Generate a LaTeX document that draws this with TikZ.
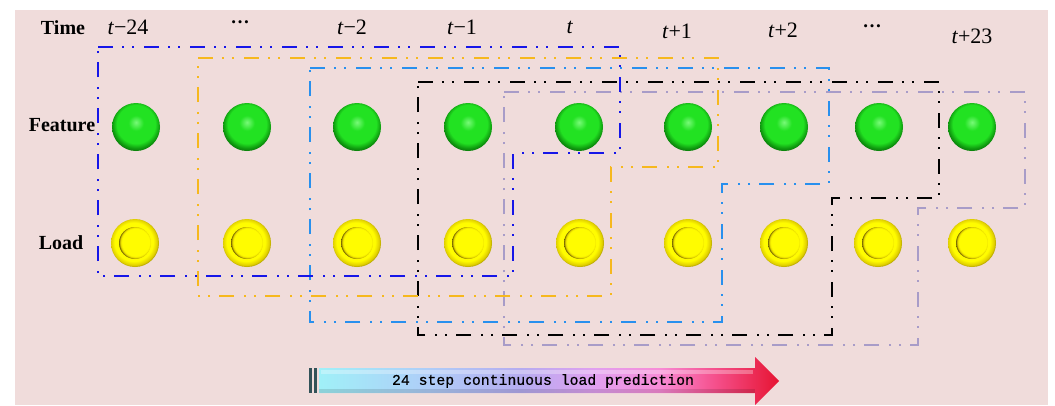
\documentclass[tikz,border=0pt]{standalone}
\usepackage{fontspec}
\setmainfont{Liberation Serif}
\newfontfamily\predfont[FakeBold=0.6]{Liberation Mono}
\usetikzlibrary{
    positioning,
    calc
}

\definecolor{slidebg}{RGB}{240,220,219}
\definecolor{winblue}{RGB}{22,22,232}
\definecolor{winorange}{RGB}{246,184,30}
\definecolor{winsky}{RGB}{40,144,238}
\definecolor{winlilac}{RGB}{168,156,200}
\definecolor{barcol}{RGB}{50,82,88}

% green feature balls
\definecolor{gbhi}{RGB}{120,250,120}
\definecolor{gbmid}{RGB}{34,226,34}
\definecolor{gbrim}{RGB}{14,150,14}
\definecolor{gbdark}{RGB}{6,92,6}
\pgfdeclareradialshading{greenball}{\pgfpoint{0bp}{5bp}}{%
  color(0bp)=(gbhi); color(8bp)=(gbmid); color(20bp)=(gbmid);
  color(25bp)=(gbrim); color(30bp)=(gbdark); color(50bp)=(gbdark)}

% yellow load buttons
\definecolor{ybright}{RGB}{255,252,0}
\definecolor{ymid}{RGB}{225,208,0}
\definecolor{ydark}{RGB}{120,104,0}
\definecolor{ydeep}{RGB}{60,52,0}
\pgfdeclareradialshading{yellowouter}{\pgfpoint{-2bp}{2bp}}{%
  color(0bp)=(ybright); color(20bp)=(ybright); color(24bp)=(ymid);
  color(28bp)=(ydark); color(50bp)=(ydark)}
\pgfdeclareradialshading{yellowinner}{\pgfpoint{2bp}{2bp}}{%
  color(0bp)=(ybright); color(22bp)=(ybright); color(24bp)=(ymid);
  color(26bp)=(ydark); color(28bp)=(ydeep); color(50bp)=(ydeep)}

% prediction arrow
\definecolor{pra}{RGB}{160,240,248}
\definecolor{prb}{RGB}{175,205,248}
\definecolor{prc}{RGB}{182,172,240}
\definecolor{prd}{RGB}{225,160,240}
\definecolor{pre}{RGB}{248,140,215}
\definecolor{prf}{RGB}{245,80,140}
\definecolor{prg}{RGB}{230,20,50}
\pgfdeclarehorizontalshading{predshade}{100bp}{%
  color(0bp)=(pra); color(25bp)=(pra); color(37bp)=(prb); color(47bp)=(prc);
  color(55bp)=(prd); color(62bp)=(pre); color(68bp)=(prf); color(75bp)=(prg);
  color(100bp)=(prg)}

\begin{document}
\begin{tikzpicture}[
    x=1pt, y=-1pt,
    every node/.style={inner sep=0pt},
    rowlabel/.style={font=\fontsize{20}{20}\selectfont\bfseries},
    steplabel/.style={font=\fontsize{22}{22}\selectfont},
    featureball/.style={
      circle,
      minimum size=48pt,
      shade,
      shading=greenball
    },
    loadbutton/.style={
      circle,
      minimum size=48pt,
      shade,
      shading=yellowouter
    },
    window/.style={
      line width=1.8pt,
      dash pattern=on 15pt off 9pt on 2pt off 8pt on 2pt off 10pt
    }
  ]

  % background {{{
  \fill[white] (0,0) rectangle (1055,405);
  \fill[slidebg] (15,10) rectangle (1048,405);
  \useasboundingbox (0,0) rectangle (1055,405);
  % }}}

  % sliding windows {{{
  \draw[window, winlilac]
    (504,92) -- (1025,92) -- (1025,208) -- (918,208) -- (918,345) -- (504,345) -- cycle;
  \draw[window, black]
    (418,82) -- (939,82) -- (939,198) -- (832,198) -- (832,335) -- (418,335) -- cycle;
  \draw[window, winsky]
    (310,68) -- (829,68) -- (829,184) -- (722,184) -- (722,322) -- (310,322) -- cycle;
  \draw[window, winorange]
    (198,58) -- (718,58) -- (718,167) -- (611,167) -- (611,296) -- (198,296) -- cycle;
  \draw[window, winblue]
    (98,47) -- (620,47) -- (620,153) -- (513,153) -- (513,276) -- (98,276) -- cycle;
  % }}}

  % row labels {{{
  \node[rowlabel] (time) at (63,28) {Time};
  \node[rowlabel] (feature) at (62,125) {Feature};
  \node[rowlabel] (load) at (61,243) {Load};
  % }}}

  % time steps {{{
  \node[steplabel] (tm24) at (128,27) {\textit{t}−24};
  \node[steplabel] (tdots) at (240,22) {\fontsize{19}{19}\selectfont\bfseries …};
  \node[steplabel] (tm2) at (352,27) {\textit{t}−2};
  \node[steplabel] (tm1) at (462,27) {\textit{t}−1};
  \node[steplabel] (tnow) at (570,27) {\textit{t}};
  \node[steplabel] (tp1) at (677,31) {\textit{t}+1};
  \node[steplabel] (tp2) at (783,30) {\textit{t}+2};
  \node[steplabel] (pdots) at (872,26) {\fontsize{19}{19}\selectfont\bfseries …};
  \node[steplabel] (tp23) at (972,36) {\textit{t}+23};
  % }}}

  % features {{{
  \node[featureball] (f1) at (136,127) {};
  \node[featureball] (f2) at (247,127) {};
  \node[featureball] (f3) at (357,127) {};
  \node[featureball] (f4) at (468,127) {};
  \node[featureball] (f5) at (579,127) {};
  \node[featureball] (f6) at (688,127) {};
  \node[featureball] (f7) at (784,127) {};
  \node[featureball] (f8) at (879,127) {};
  \node[featureball] (f9) at (972,127) {};
  % }}}

  % loads {{{
  \node[loadbutton] (l1) at (135,243) {};
  \node[loadbutton] (l2) at (247,243) {};
  \node[loadbutton] (l3) at (357,243) {};
  \node[loadbutton] (l4) at (468,243) {};
  \node[loadbutton] (l5) at (580,243) {};
  \node[loadbutton] (l6) at (688,243) {};
  \node[loadbutton] (l7) at (784,243) {};
  \node[loadbutton] (l8) at (878,243) {};
  \node[loadbutton] (l9) at (972,243) {};
  % inner rings of the buttons
  \foreach \btn in {l1,l2,l3,l4,l5,l6,l7,l8,l9}
    \shade[shading=yellowinner] (\btn.center) circle[radius=16pt];
  % }}}

  % prediction arrow {{{
  \fill[barcol] (309,368) rectangle (312,393);
  \fill[barcol] (314,368) rectangle (317,393);
  \shade[shading=predshade]
    (319,368) -- (755,368) -- (755,357) -- (779,381)
    -- (755,405) -- (755,393) -- (319,393) -- cycle;
  \fill[white, opacity=0.3] (321,370) rectangle (753,374);
  \fill[black, opacity=0.12] (319,389) rectangle (755,393);
  \node[font=\predfont\fontsize{14.8}{15}\selectfont] (pred) at (543,381)
    {24 step continuous load prediction};
  % }}}

\end{tikzpicture}
\end{document}
